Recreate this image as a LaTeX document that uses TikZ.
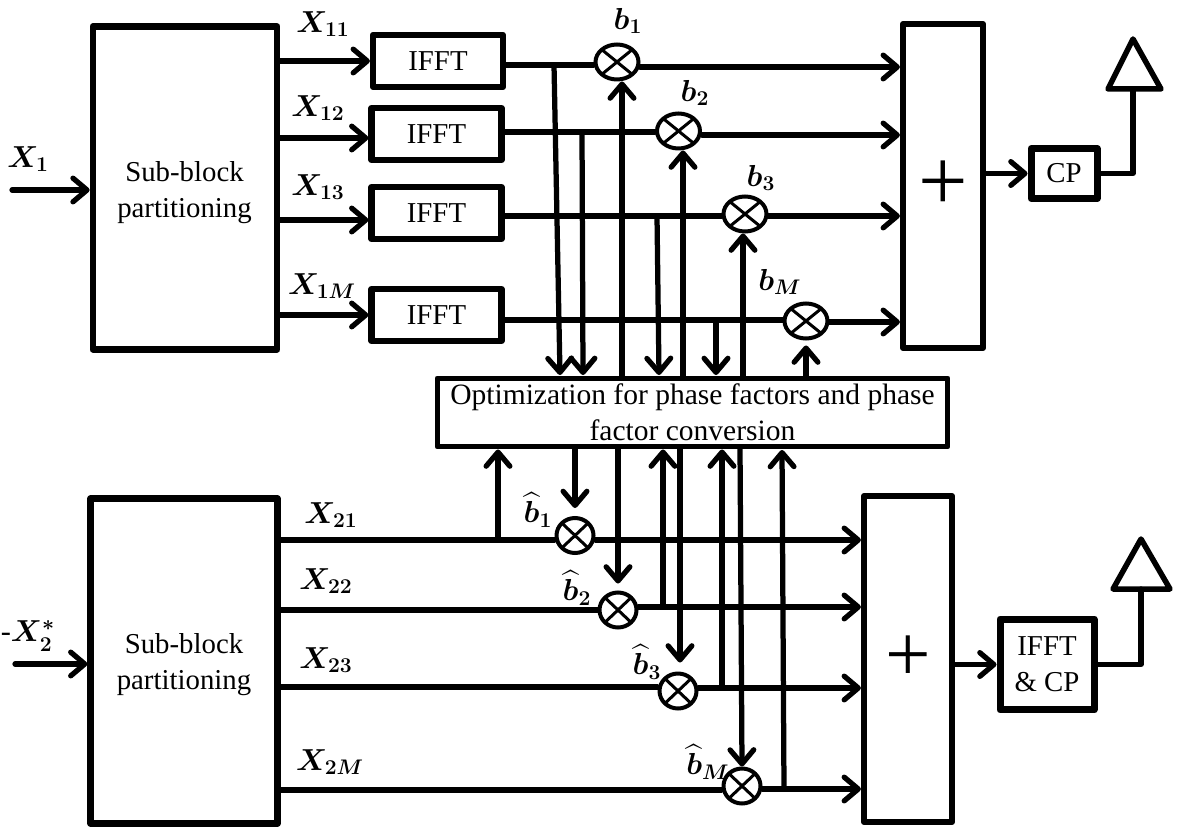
\documentclass[tikz,border=0pt]{standalone}
\usepackage{amsmath,amssymb}
\usepackage{fontspec}
\setmainfont{Liberation Serif}
\usepackage{xcolor}
\usetikzlibrary{arrows.meta,shapes.geometric}

\tikzset{
    blockfont/.style={font=\fontsize{16.4}{20.4}\selectfont},
    blockbox/.style={draw, line width=0.125cm, line join=round, align=center, blockfont},
    fftbox/.style={blockbox, minimum width=2.6cm, minimum height=1.04cm},
    mixer/.style={ellipse, draw, line width=0.08cm, minimum width=0.74cm, minimum height=0.7cm, inner sep=0pt,
        path picture={
            \draw[line width=0.06cm] (path picture bounding box.north west) -- (path picture bounding box.south east);
            \draw[line width=0.06cm] (path picture bounding box.north east) -- (path picture bounding box.south west);
        }},
    bigmixer/.style={mixer, minimum width=0.86cm},
    sig/.style={line width=0.105cm, line cap=round, line join=round},
    arr/.style={sig, -{Straight Barb[length=8pt,width=13.5pt,round]}},
    lbl/.style={font=\LARGE, inner sep=0pt},
}

\begin{document}
\begin{tikzpicture}[x=0.02cm, y=-0.02cm]
        \useasboundingbox (0,0) rectangle (1179,827);

        \node[blockbox, minimum width=3.69cm, minimum height=6.46cm] (sub1) at (185,188) {};
        \node[blockbox, minimum width=3.74cm, minimum height=6.5cm] (sub2) at (184,661) {};
        \node[blockfont, align=center] (lsub1) at (184.5,193) {Sub-block\\partitioning};
        \node[blockfont, align=center] (lsub2) at (184,665) {Sub-block\\partitioning};

        \node[fftbox] (fft1) at (438,61) {IFFT};
        \node[fftbox] (fft2) at (436.5,134) {IFFT};
        \node[fftbox] (fft3) at (436.5,213) {IFFT};
        \node[fftbox] (fft4) at (436.5,315) {IFFT};

        \node[bigmixer] (mix1) at (617,62) {};
        \node[bigmixer] (mix2) at (678.5,131) {};
        \node[bigmixer] (mix3) at (745,214) {};
        \node[bigmixer] (mix4) at (806,321) {};

        \node[mixer] (hat1) at (575,535.5) {};
        \node[mixer] (hat2) at (618,610) {};
        \node[mixer] (hat3) at (678,691) {};
        \node[mixer] (hat4) at (742,786) {};

        \node[blockbox, minimum width=1.6cm, minimum height=6.48cm, font=\fontsize{50}{50}\selectfont] (sum1) at (943,186) {+};
        \node[blockbox, minimum width=1.76cm, minimum height=6.52cm, font=\fontsize{46}{46}\selectfont] (sum2) at (908,659) {+};

        \node[blockbox, line width=0.14cm, minimum width=1.32cm, minimum height=1cm] (cp1) at (1064,173.5) {CP};
        \node[blockbox, line width=0.14cm, minimum width=1.88cm, minimum height=1.82cm] (cp2) at (1047,664.5) {IFFT\\\& CP};

        \node[blockbox, minimum width=10.22cm, minimum height=1.38cm, line width=0.1cm, font=\fontsize{16.8}{20.4}\selectfont] (opt) at (692.5,412.5) {Optimization for phase factors and phase\\factor conversion};

        \node[lbl] (lx1) at (28,159) {$\boldsymbol{X_{1}}$};
        \node[lbl] (lx11) at (323,24) {$\boldsymbol{X_{11}}$};
        \node[lbl] (lx12) at (318,108) {$\boldsymbol{X_{12}}$};
        \node[lbl] (lx13) at (318,187) {$\boldsymbol{X_{13}}$};
        \node[lbl] (lx1m) at (322,286) {$\boldsymbol{X_{1M}}$};
        \node[lbl] (lx2) at (28,636) {$\boldsymbol{\text{-}X_{2}^{*}}$};
        \node[lbl] (lx21) at (331,515) {$\boldsymbol{X_{21}}$};
        \node[lbl] (lx22) at (326,581) {$\boldsymbol{X_{22}}$};
        \node[lbl] (lx23) at (326,660) {$\boldsymbol{X_{23}}$};
        \node[lbl] (lx2m) at (330,762) {$\boldsymbol{X_{2M}}$};

        \node[lbl] (lb1) at (628,21) {$\boldsymbol{b_{1}}$};
        \node[lbl] (lb2) at (695,93) {$\boldsymbol{b_{2}}$};
        \node[lbl] (lb3) at (761,178) {$\boldsymbol{b_{3}}$};
        \node[lbl] (lbm) at (780,282) {$\boldsymbol{b_{M}}$};
        \node[lbl] (lh1) at (538,510) {$\boldsymbol{\widehat{b}_{1}}$};
        \node[lbl] (lh2) at (577,588) {$\boldsymbol{\widehat{b}_{2}}$};
        \node[lbl] (lh3) at (647,662) {$\boldsymbol{\widehat{b}_{3}}$};
        \node[lbl] (lhm) at (708,762) {$\boldsymbol{\widehat{b}_{M}}$};

        \coordinate (in1) at (12,190);
        \coordinate (in2) at (15,664);
        \coordinate (rowb) at (369,138);
        \coordinate (rowc) at (369,220);
        \draw[arr] (in1) -- (sub1.west |- in1);
        \draw[arr] (in2) -- (sub2.west |- in2);

        \draw[arr] (sub1.east |- fft1) -- (fft1.west);
        \draw[arr] (sub1.east |- rowb) -- (fft2.west |- rowb);
        \draw[arr] (sub1.east |- rowc) -- (fft3.west |- rowc);
        \draw[arr] (sub1.east |- fft4) -- (fft4.west);

        \coordinate (tap1) at (554,65);
        \coordinate (tap2) at (582,132);
        \coordinate (tap3) at (657,216);
        \coordinate (tap4) at (716,320);
        \draw[sig] (fft1.east |- tap1) -- (mix1.west |- tap1);
        \draw[sig] (fft2.east |- tap2) -- (mix2.west |- tap2);
        \draw[sig] (fft3.east |- tap3) -- (mix3.west |- tap3);
        \draw[sig] (fft4.east |- tap4) -- (mix4.west |- tap4);

        \coordinate (out1) at (640,67);
        \coordinate (out2) at (702,135);
        \coordinate (out3) at (768,216);
        \coordinate (out4) at (829,322);
        \draw[arr] (out1) -- (sum1.west |- out1);
        \draw[arr] (out2) -- (sum1.west |- out2);
        \draw[arr] (out3) -- (sum1.west |- out3);
        \draw[arr] (out4) -- (sum1.west |- out4);

        \coordinate (port1) at (560,375);
        \coordinate (port2) at (583,375);
        \coordinate (port3) at (659,375);
        \coordinate (port4) at (716,375);
        \draw[arr] (tap1) -- (port1);
        \draw[arr] (tap2) -- (port2);
        \draw[arr] (tap3) -- (port3);
        \draw[arr] (tap4) -- (port4);

        \coordinate (up1) at (622,378);
        \coordinate (up2) at (683,378);
        \coordinate (up3) at (743,378);
        \coordinate (up4) at (806,378);
        \draw[arr] (up1) -- (up1 |- mix1.south);
        \draw[arr] (up2) -- (up2 |- mix2.south);
        \draw[arr] (up3) -- (up3 |- mix3.south);
        \draw[arr, shorten >=0.1cm] (up4) -- (mix4.south);

        \coordinate (row1) at (279,540);
        \coordinate (row2) at (279,610);
        \coordinate (row3) at (279,687);
        \coordinate (row4) at (279,790);
        \draw[sig] (row1) -- (hat1.west |- row1);
        \draw[sig] (row2) -- (hat2.west |- row2);
        \draw[sig] (row3) -- (hat3.west |- row3);
        \draw[sig] (row4) -- (hat4.west |- row4);

        \coordinate (rise1) at (498,540);
        \coordinate (rise2) at (663,607);
        \coordinate (rise3) at (722,688);
        \coordinate (rise4) at (784,789);
        \draw[arr] (hat1.east |- rise1) -- (sum2.west |- rise1);
        \draw[arr] (hat2.east |- rise2) -- (sum2.west |- rise2);
        \draw[arr] (hat3.east |- rise3) -- (sum2.west |- rise3);
        \draw[arr] (hat4.east |- rise4) -- (sum2.west |- rise4);

        \draw[arr] (rise1) -- (rise1 |- opt.south);
        \draw[arr] (rise2) -- (rise2 |- opt.south);
        \draw[arr] (rise3) -- (rise3 |- opt.south);
        \draw[arr] (rise4) -- (782,450);

        \coordinate (drop3) at (680,447);
        \coordinate (drop4) at (740,447);
        \draw[arr, shorten >=0.16cm] (hat1.north |- opt.south) -- (hat1.north);
        \draw[arr, shorten >=0.14cm] (hat2.north |- opt.south) -- (hat2.north);
        \draw[arr, shorten >=0.18cm] (drop3) -- (hat3.north -| drop3);
        \draw[arr] (drop4) -- (hat4.north);

        \draw[arr] (sum1.east |- cp1) -- (cp1.west);
        \draw[arr] (sum2.east |- cp2) -- (cp2.west);

        \coordinate (ant1) at (1133,89);
        \coordinate (ant2) at (1141,589);
        \draw[blockbox, line width=0.11cm] (1108,89) -- (1161,89) -- (1133,39) -- cycle;
        \draw[blockbox, line width=0.11cm] (1113,589) -- (1170,589) -- (1141,539) -- cycle;
        \draw[sig] (cp1.east) -| (ant1);
        \draw[sig] (cp2.east) -| (ant2);
    \end{tikzpicture}
\end{document}
